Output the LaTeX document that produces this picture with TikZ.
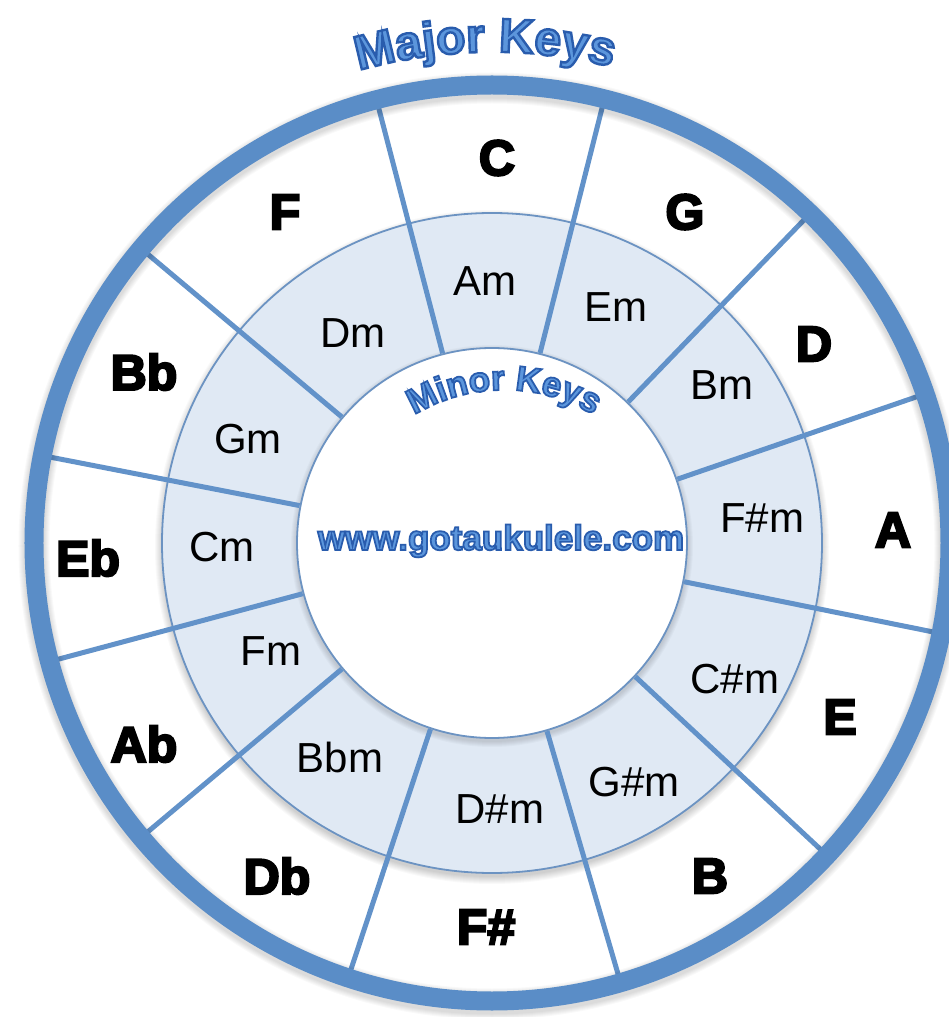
\documentclass[tikz,border=0pt]{standalone}
\usepackage{fontspec}
\setmainfont{Liberation Sans}
\newfontfamily\heavy{Liberation Sans}[BoldFeatures={FakeBold=4.5}]
\newfontfamily\heavyout{Liberation Sans}[BoldFeatures={FakeBold=5}]
\usetikzlibrary{decorations.text}
\definecolor{ringblue}{RGB}{90,141,199}
\definecolor{spokeblue}{RGB}{98,146,201}
\definecolor{minorfill}{RGB}{224,233,244}
\definecolor{edgeblue}{RGB}{108,147,194}
\definecolor{titleblue}{RGB}{92,150,220}
\newcommand{\dkstroke}{\special{pdf:literal direct 0.16 0.36 0.68 RG}}
\begin{document}
\begin{tikzpicture}[x=1pt,y=1pt,
  majorlbl/.style={font=\heavy\bfseries\fontsize{50}{50}\selectfont, text=black, inner sep=0pt},
  minorlbl/.style={font=\fontsize{42}{42}\selectfont, text=black, inner sep=0pt},
  spokeline/.style={draw=spokeblue, line width=5pt},
  ringline/.style={draw=ringblue, line width=19pt},
  thinedge/.style={draw=edgeblue, line width=1.8pt},
  shade/.style={black, opacity=0.025},
  urltext/.style={font=\heavyout\bfseries\fontsize{35}{35}\selectfont, text=titleblue, inner sep=0pt}
]
\useasboundingbox (-492,-474) rectangle (457,543);
\fill[white] (-492,-474) rectangle (457,543);

% middle (minor) disk
\foreach \i in {1,...,8} \fill[shade] (0,-4) circle ({329+\i});
\node[circle, minimum size=660pt, inner sep=0pt, fill=minorfill, thinedge] (middisk) at (0,0) {};

% inner hub
\foreach \i in {1,...,6} \fill[shade] (0,-3) circle ({195+\i});
\node[circle, minimum size=390pt, inner sep=0pt, fill=white, thinedge] (hub) at (0,0) {};

% spokes
\foreach \a [count=\i] in {104.6,75.8,46,19,-11.4,-43,-73.7,-108.3,-140,195,169,140}{
  \coordinate (in\i) at (\a:196);
  \coordinate (out\i) at (\a:450);
  \draw[spokeline] (in\i) -- (out\i);
}

% outer ring
\foreach \i in {1,...,6} \draw[black, opacity=0.025, line width={19+2*\i}] (0,-3) circle (458);
\node[circle, minimum size=916pt, inner sep=0pt, ringline] (ring) at (0,0) {};

% major keys
\node[majorlbl] (kC)  at (5,385)    {C};
\node[majorlbl] (kG)  at (193,331)  {G};
\node[majorlbl] (kD)  at (322,199)  {D};
\node[majorlbl] (kA)  at (401,13)   {A};
\node[majorlbl] (kE)  at (348,-174) {E};
\node[majorlbl] (kB)  at (218,-333) {B};
\node[majorlbl] (kFs) at (-6,-384)  {F\#};
\node[majorlbl] (kDb) at (-215,-333){Db};
\node[majorlbl] (kAb) at (-348,-201){Ab};
\node[majorlbl] (kEb) at (-404,-15) {Eb};
\node[majorlbl] (kBb) at (-348,171) {Bb};
\node[majorlbl] (kF)  at (-207,331) {F};

% minor keys
\node[minorlbl] (mAm)  at (-7,262)   {Am};
\node[minorlbl] (mEm)  at (124,236)  {Em};
\node[minorlbl] (mBm)  at (230,158)  {Bm};
\node[minorlbl] (mFsm) at (270,25)   {F\#m};
\node[minorlbl] (mCsm) at (243,-136) {C\#m};
\node[minorlbl] (mGsm) at (142,-239) {G\#m};
\node[minorlbl] (mDsm) at (8,-266)   {D\#m};
\node[minorlbl] (mBbm) at (-152,-214){Bbm};
\node[minorlbl] (mFm)  at (-221,-108){Fm};
\node[minorlbl] (mCm)  at (-270,-4)  {Cm};
\node[minorlbl] (mGm)  at (-244,104) {Gm};
\node[minorlbl] (mDm)  at (-139,210) {Dm};

% titles
\path[decorate, decoration={text along path, text align=center, text color=titleblue,
  text={|\heavyout\bfseries\fontsize{48}{48}\selectfont\color{titleblue}\dkstroke|Major Keys}}]
  (110.8:491) arc[start angle=110.8, end angle=70.8, radius=491];

\path[decorate, decoration={text along path, text align=center, text color=titleblue,
  text={|\heavyout\bfseries\fontsize{35}{35}\selectfont\color{titleblue}\dkstroke|Minor Keys}}]
  ([shift={(12,-20)}]130:173) arc[start angle=130, end angle=50, radius=173];

\node[urltext] (url) at (9,2) {\dkstroke www.gotaukulele.com};
\end{tikzpicture}
\end{document}
